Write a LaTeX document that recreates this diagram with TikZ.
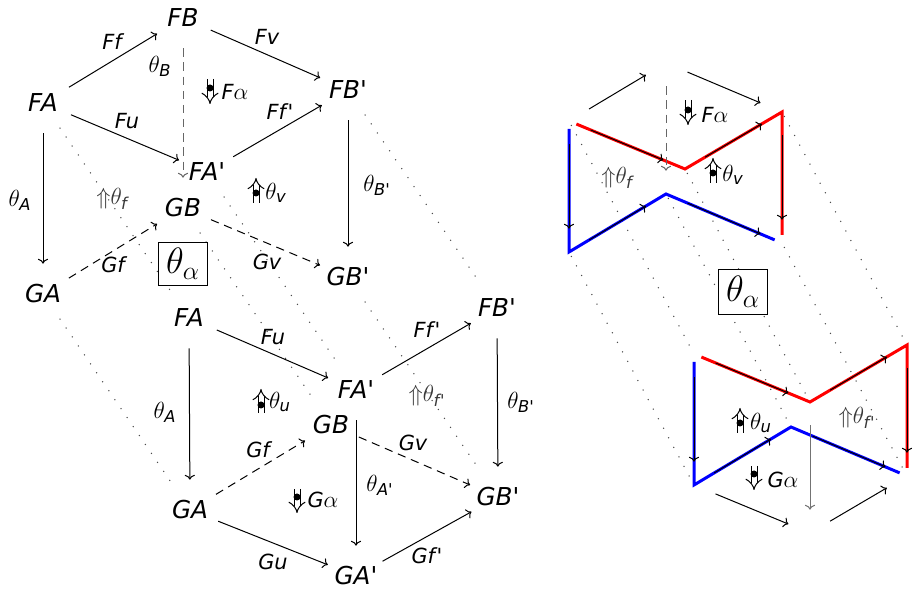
\RequirePackage{fix-cm}
\documentclass[tikz,border=0pt]{standalone}
\usepackage{amsmath}
\usepackage{fontspec}
\setmainfont{DejaVu Sans}
\usetikzlibrary{arrows.meta}
\newcommand\objf{\fontsize{14.8}{17}\selectfont\itshape}
\newcommand\labf{\fontsize{12.5}{15}\selectfont\itshape}
\newcommand\tv[1]{\textit{#1}}
\newcommand\mth[1]{{\fontsize{14}{16}\selectfont$#1$}}
\newcommand\pr{\textquotesingle}
\newcommand\Up{\mathord{\Uparrow}}
\begin{document}
\begin{tikzpicture}[x=0.6pt,y=-0.6pt,
  >={Computer Modern Rightarrow},
  obj/.style={circle, minimum size=36pt, inner sep=0pt, font=\objf},
  robj/.style={circle, minimum size=27.6pt, inner sep=0pt},
  lab/.style={inner sep=0pt, font=\labf},
  glab/.style={lab, text=black!78},
  arr/.style={->, line width=0.6pt},
  dsh/.style={arr, dash pattern=on 5pt off 3.5pt},
  dotl/.style={line width=0.9pt, line cap=round, dash pattern=on 0pt off 6.5pt, black!70},
  redp/.style={line width=1.8pt, red, line join=miter, shorten <=4.8pt, shorten >=4.8pt},
  bluep/.style={line width=1.8pt, blue, line join=miter, shorten <=4.8pt, shorten >=4.8pt},
  dbl/.style={double, double distance=3pt, line width=0.6pt, -{Implies}},
  tbox/.style={draw, fill=white, line width=0.6pt, inner sep=0pt, minimum width=29.4pt, minimum height=26pt, font=\fontsize{22}{26}\selectfont}
]
\fill[white] (0,0) rectangle (914,589);
\useasboundingbox (0,0) rectangle (914,589);

% ---------- left, first cube ----------
\node[obj] (FA1)  at (43,103)  {FA};
\node[obj] (FB1)  at (183,18)  {FB};
\node[obj] (FBp1) at (348,90)  {FB\pr};
\node[obj] (FAp1) at (207,172) {FA\pr};
\node[obj] (GA1)  at (43,294)  {GA};
\node[obj] (GB1)  at (183,208) {GB};
\node[obj] (GBp1) at (348,277) {GB\pr};

% ---------- left, second cube ----------
\node[obj] (FA2)  at (189,318) {FA};
\node[obj] (FAp2) at (356,390) {FA\pr};
\node[obj] (FBp2) at (497,308) {FB\pr};
\node[obj] (GA2)  at (190,510) {GA};
\node[obj] (GB2)  at (331,425) {GB};
\node[obj] (GBp2) at (498,497) {GB\pr};
\node[obj] (GAp2) at (356,576) {GA\pr};

% dotted links
\draw[dotl] (FA1) -- (FA2);
\draw[dotl] (GA1) -- (GA2);
\draw[dotl] (FAp1) -- (FAp2);
\draw[dotl] (GB1) -- (GB2);
\draw[dotl] (FBp1) -- (FBp2);
\draw[dotl] (GBp1) -- (GBp2);

\node[tbox] (box1) at (183,264) {$\theta_\alpha$};

% arrows cube 1
\draw[arr] (FA1) -- (FB1);
\draw[arr] (FB1) -- (FBp1);
\draw[arr] (FA1) -- (FAp1);
\draw[arr] (FAp1) -- (FBp1);
\draw[arr] (FA1) -- (GA1);
\draw[arr] (FBp1) -- (GBp1);
\draw[dsh, black!60] (FB1) -- (GB1);
\draw[dsh] (GA1) -- (GB1);
\draw[dsh] (GB1) -- (GBp1);

\node[lab] (l1a) at (112,42)  {Ff};
\node[lab] (l1b) at (267,37)  {Fv};
\node[lab] (l1c) at (160,66)  {\mth{\theta_{\tv{B}}}};
\node[lab] (l1d) at (127,121) {Fu};
\node[lab] (l1e) at (280,112) {Ff\kern1pt\pr};
\node[lab] (l1f) at (20,200)  {\mth{\theta_{\tv{A}}}};
\node[lab] (l1g) at (377,185) {\mth{\theta_{\tv{B\pr}}}};
\node[lab] (l1h) at (113,265) {Gf};
\node[lab] (l1i) at (267,262) {Gv};
\node[glab] (l1j) at (112,199) {\mth{\Up\theta_{\tv{f}}}};

\draw[dbl] (210,79) -- (210,104);
\fill (210,88) circle[radius=2.1pt];
\node[lab] (l1k) at (235,92) {F\mth{\alpha}};
\draw[dbl] (256,203) -- (256,178);
\fill (256,193) circle[radius=2.1pt];
\node[lab] (l1l) at (276,193) {\mth{\theta_{\tv{v}}}};

% arrows cube 2
\draw[arr] (FA2) -- (FAp2);
\draw[arr] (FAp2) -- (FBp2);
\draw[arr] (FA2) -- (GA2);
\draw[arr] (FBp2) -- (GBp2);
\draw[dsh] (GA2) -- (GB2);
\draw[dsh] (GB2) -- (GBp2);
\draw[arr] (FAp2) -- (GAp2);
\draw[arr] (GA2) -- (GAp2);
\draw[arr] (GAp2) -- (GBp2);

\node[lab] (l2a) at (273,337) {Fu};
\node[lab] (l2b) at (427,330) {Ff\kern1pt\pr};
\node[lab] (l2c) at (165,412) {\mth{\theta_{\tv{A}}}};
\node[lab] (l2d) at (521,402) {\mth{\theta_{\tv{B\pr}}}};
\node[lab] (l2e) at (258,450) {Gf};
\node[lab] (l2f) at (413,443) {Gv};
\node[lab] (l2g) at (380,485) {\mth{\theta_{\tv{A\pr}}}};
\node[lab] (l2h) at (273,562) {Gu};
\node[lab] (l2i) at (427,556) {Gf\kern1pt\pr};
\node[glab] (l2j) at (427,396) {\mth{\Up\theta_{\tv{f\kern0.5pt\pr}}}};

\draw[dbl] (261,413) -- (261,389);
\fill (261,405) circle[radius=2.1pt];
\node[lab] (l2k) at (280,402) {\mth{\theta_{\tv{u}}}};
\draw[dbl] (297,489) -- (297,513);
\fill (297,497) circle[radius=2.1pt];
\node[lab] (l2l) at (323,500) {G\mth{\alpha}};

% ---------- right, first shape ----------
\node[robj] (FAr)  at (569,121) {};
\node[robj] (FBr)  at (666,63)  {};
\node[robj] (FBpr) at (782,112) {};
\node[robj] (FApr) at (685,169) {};
\node[robj] (GAr)  at (569,252) {};
\node[robj] (GBr)  at (666,194) {};
\node[robj] (GBpr) at (782,243) {};

% ---------- right, second shape ----------
\node[robj] (FAr2)  at (694,354) {};
\node[robj] (FBpr2) at (907,345) {};
\node[robj] (FApr2) at (810,402) {};
\node[robj] (GAr2)  at (694,485) {};
\node[robj] (GBr2)  at (791,427) {};
\node[robj] (GBpr2) at (907,476) {};
\node[robj] (GApr2) at (810,533) {};

\draw[dotl, shorten <=3pt, shorten >=3pt] (FAr.center) -- (FAr2.center);
\draw[dotl, shorten <=3pt, shorten >=3pt] (GAr.center) -- (GAr2.center);
\draw[dotl, shorten <=3pt, shorten >=3pt] (FApr.center) -- (FApr2.center);
\draw[dotl, shorten <=3pt, shorten >=3pt] (GBr.center) -- (GBr2.center);
\draw[dotl, shorten <=3pt, shorten >=3pt] (FBpr.center) -- (FBpr2.center);
\draw[dotl, shorten <=3pt, shorten >=3pt] (GBpr.center) -- (GBpr2.center);

\node[tbox, minimum height=27pt] (box2) at (743,292) {$\theta_\alpha$};

% top shape
\draw[redp] (FAr.center) -- (FApr.center) -- (FBpr.center) -- (GBpr.center);
\draw[bluep] (FAr.center) -- (GAr.center) -- (GBr.center) -- (GBpr.center);
\draw[arr] (FAr) -- (FBr);
\draw[arr] (FBr) -- (FBpr);
\draw[dsh, black!60] (FBr) -- (GBr);
\draw[arr] (FAr) -- (FApr);
\draw[arr] (FApr) -- (FBpr);
\draw[arr] (FBpr) -- (GBpr);
\draw[arr] (FAr) -- (GAr);
\draw[arr] (GAr) -- (GBr);
\draw[arr] (GBr) -- (GBpr);

\draw[dbl] (688,100) -- (688,125);
\fill (688,110) circle[radius=2.1pt];
\node[lab] (r1a) at (715,115) {F\mth{\alpha}};
\draw[dbl] (713,183) -- (713,158);
\fill (713,173) circle[radius=2.1pt];
\node[lab] (r1b) at (733,175) {\mth{\theta_{\tv{v}}}};
\node[glab] (r1c) at (617,178) {\mth{\Up\theta_{\tv{f}}}};

% bottom shape
\draw[redp] (FAr2.center) -- (FApr2.center) -- (FBpr2.center) -- (GBpr2.center);
\draw[bluep] (FAr2.center) -- (GAr2.center) -- (GBr2.center) -- (GBpr2.center);
\draw[arr] (FAr2) -- (FApr2);
\draw[arr] (FApr2) -- (FBpr2);
\draw[arr] (FBpr2) -- (GBpr2);
\draw[arr] (FAr2) -- (GAr2);
\draw[arr] (GAr2) -- (GBr2);
\draw[arr] (GBr2) -- (GBpr2);
\draw[arr, black!55] (FApr2) -- (GApr2);
\draw[arr] (GAr2) -- (GApr2);
\draw[arr] (GApr2) -- (GBpr2);

\draw[dbl] (740,433) -- (740,408);
\fill (740,423) circle[radius=2.1pt];
\node[lab] (r2a) at (761,423) {\mth{\theta_{\tv{u}}}};
\node[glab] (r2b) at (857,418) {\mth{\Up\theta_{\tv{f\kern0.5pt\pr}}}};
\draw[dbl] (754,466) -- (754,490);
\fill (754,474) circle[radius=2.1pt];
\node[lab] (r2c) at (783,480) {G\mth{\alpha}};
\end{tikzpicture}
\end{document}
